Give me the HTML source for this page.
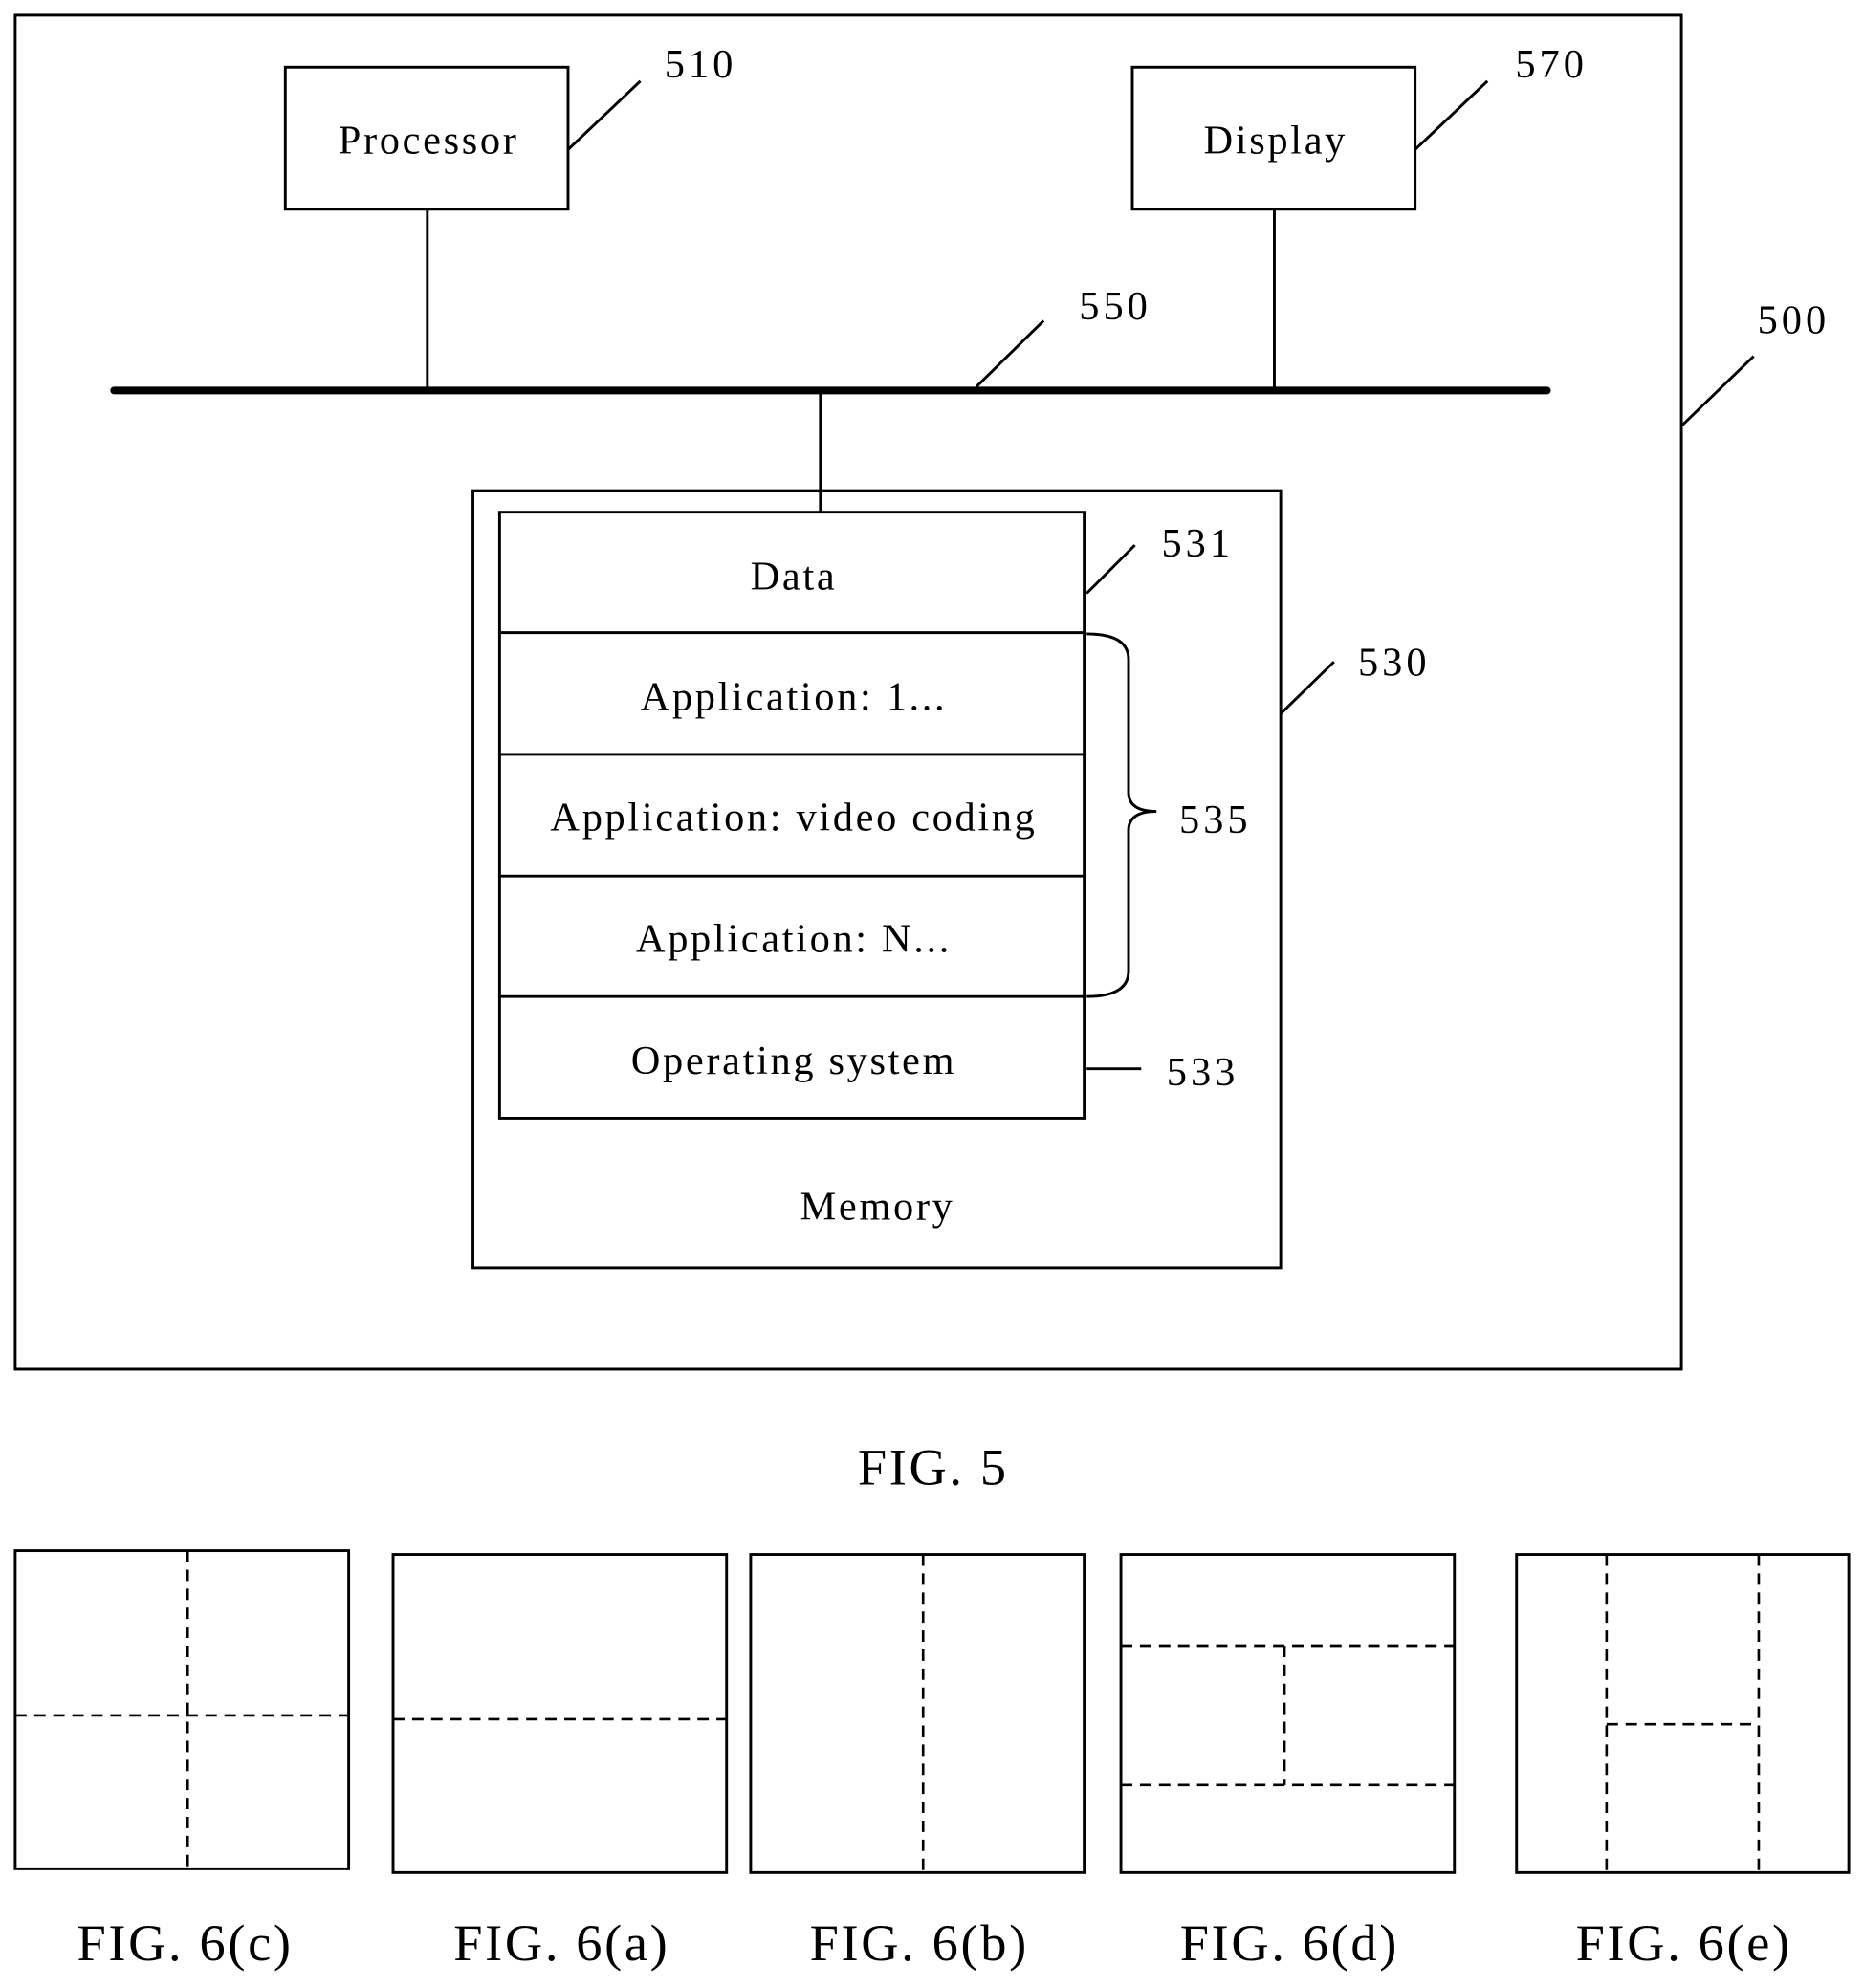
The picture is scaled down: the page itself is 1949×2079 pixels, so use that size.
<!DOCTYPE html>
<html><head><style>html,body{margin:0;padding:0;background:#fff}svg{display:block}</style></head>
<body>
<svg width="1949" height="2079" viewBox="0 0 1470 1568" preserveAspectRatio="none" xmlns="http://www.w3.org/2000/svg" font-family="'Liberation Serif', serif" fill="none" stroke="#000" stroke-width="2.2">
<rect x="12" y="12" width="1314" height="1068"/>
<rect x="225" y="53" width="223" height="112"/>
<rect x="893" y="53" width="223" height="112"/>
<line x1="448" y1="118" x2="505" y2="64"/>
<line x1="1116" y1="118" x2="1173" y2="64"/>
<line x1="90" y1="308" x2="1220" y2="308" stroke-width="6" stroke-linecap="round"/>
<line x1="337" y1="165" x2="337" y2="308"/>
<line x1="1005" y1="165" x2="1005" y2="308"/>
<line x1="647" y1="308" x2="647" y2="404"/>
<line x1="770" y1="305" x2="823" y2="253"/>
<line x1="1326" y1="336" x2="1383" y2="281"/>
<rect x="373" y="387" width="637" height="613"/>
<rect x="394" y="404" width="461" height="478"/>
<line x1="394" y1="499" x2="855" y2="499"/>
<line x1="394" y1="595" x2="855" y2="595"/>
<line x1="394" y1="691" x2="855" y2="691"/>
<line x1="394" y1="786" x2="855" y2="786"/>
<line x1="857" y1="468" x2="895" y2="430"/>
<line x1="1010" y1="563" x2="1052" y2="522"/>
<path d="M857 500 Q890 500 890 520 L890 625 Q890 640 912 640 Q890 640 890 655 L890 766 Q890 786 857 786"/>
<line x1="857" y1="843" x2="900" y2="843"/>
<g stroke-dasharray="9,6" stroke-width="2">
<line x1="148" y1="1223" x2="148" y2="1474"/><line x1="12" y1="1353" x2="275" y2="1353"/>
<line x1="310" y1="1356" x2="573" y2="1356"/>
<line x1="728" y1="1226" x2="728" y2="1477"/>
<line x1="884" y1="1298" x2="1147" y2="1298"/><line x1="884" y1="1408" x2="1147" y2="1408"/><line x1="1013" y1="1298" x2="1013" y2="1408"/>
<line x1="1267" y1="1226" x2="1267" y2="1477"/><line x1="1387" y1="1226" x2="1387" y2="1477"/><line x1="1267" y1="1360" x2="1387" y2="1360"/>
</g>
<rect x="12" y="1223" width="263" height="251"/>
<rect x="310" y="1226" width="263" height="251"/>
<rect x="592" y="1226" width="263" height="251"/>
<rect x="884" y="1226" width="263" height="251"/>
<rect x="1196" y="1226" width="262" height="251"/>
<g fill="#000" stroke="none" font-size="32" text-anchor="middle" letter-spacing="2">
<text x="338" y="121">Processor</text>
<text x="1006" y="121">Display</text>
<text x="626" y="465">Data</text>
<text x="626" y="560">Application: 1...</text>
<text x="626" y="655">Application: video coding</text>
<text x="626" y="751">Application: N...</text>
<text x="626" y="847">Operating system</text>
<text x="692" y="962">Memory</text>
</g>
<g fill="#000" stroke="none" font-size="32" letter-spacing="3">
<text x="524" y="61">510</text>
<text x="1195" y="61">570</text>
<text x="851" y="252">550</text>
<text x="1386" y="263">500</text>
<text x="916" y="439">531</text>
<text x="1071" y="533">530</text>
<text x="930" y="657">535</text>
<text x="920" y="856">533</text>
</g>
<g fill="#000" stroke="none" font-size="41" text-anchor="middle" letter-spacing="2">
<text x="736" y="1171">FIG. 5</text>
<text x="146" y="1546">FIG. 6(c)</text>
<text x="443" y="1546">FIG. 6(a)</text>
<text x="725" y="1546">FIG. 6(b)</text>
<text x="1017" y="1546">FIG. 6(d)</text>
<text x="1328" y="1546">FIG. 6(e)</text>
</g>
</svg>
</body></html>
